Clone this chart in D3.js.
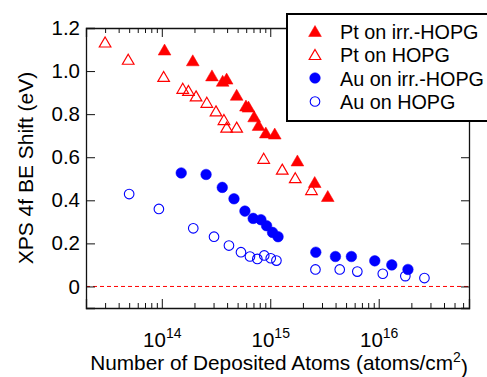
<!DOCTYPE html>
<html>
<head>
<meta charset="utf-8">
<script src="https://cdn.jsdelivr.net/npm/d3@7"></script>
<style>
  body { margin: 0; background: #fff; }
  svg { display: block; font-family: "Liberation Sans", Arial, sans-serif; }
  .axis path, .axis line { stroke: #111; }
</style>
</head>
<body>
<svg id="chart" width="487" height="377"></svg>
<script>
// Pt on irradiated HOPG (filled triangles)
const ptIrrX = [1.06e14, 1.93e14, 2.9e14, 3.64e14, 3.96e14, 4.9e14, 5.97e14, 6.3e14, 7.1e14, 7.8e14, 9.1e14, 1.10e15, 1.78e15, 2.57e15, 3.39e15];
const ptIrrY = [1.10, 1.05, 0.98, 0.955, 0.965, 0.89, 0.84, 0.835, 0.79, 0.75, 0.715, 0.71, 0.585, 0.485, 0.42];
// Pt on HOPG (open triangles)
const ptX = [3.0e13, 4.9e13, 1.04e14, 1.56e14, 1.76e14, 2.07e14, 2.6e14, 3.16e14, 3.74e14, 3.96e14, 4.9e14, 8.7e14, 1.29e15, 1.70e15, 2.4e15];
const ptY = [1.135, 1.055, 0.975, 0.92, 0.91, 0.885, 0.855, 0.815, 0.775, 0.74, 0.74, 0.595, 0.545, 0.505, 0.45];
// Au on irradiated HOPG (filled circles)
const auIrrX = [1.51e14, 2.56e14, 3.61e14, 4.63e14, 5.84e14, 6.96e14, 8.2e14, 9.25e14, 1.05e15, 1.18e15, 2.63e15, 3.99e15, 5.6e15, 9.2e15, 1.32e16, 1.86e16];
const auIrrY = [0.527, 0.52, 0.46, 0.407, 0.35, 0.316, 0.31, 0.282, 0.251, 0.231, 0.159, 0.139, 0.139, 0.119, 0.1, 0.079];
// Au on HOPG (open circles)
const auX = [5.0e13, 9.4e13, 1.95e14, 3.03e14, 4.16e14, 5.37e14, 6.5e14, 7.6e14, 8.8e14, 1.01e15, 1.14e15, 2.61e15, 4.37e15, 6.35e15, 1.09e16, 1.76e16, 2.64e16];
const auY = [0.429, 0.36, 0.27, 0.231, 0.19, 0.159, 0.139, 0.128, 0.144, 0.131, 0.12, 0.079, 0.079, 0.069, 0.059, 0.048, 0.039];

const seriesNames = ['Pt on irr.-HOPG', 'Pt on HOPG', 'Au on irr.-HOPG', 'Au on HOPG'];
const xMajorTicks = [1e14, 1e15, 1e16];
const yTicks = [0, 0.2, 0.4, 0.6, 0.8, 1.0, 1.2];

const series = [
  {name: seriesNames[0], xs: ptIrrX, ys: ptIrrY, shape: 'tri', filled: true, color: '#ff0000'},
  {name: seriesNames[1], xs: ptX, ys: ptY, shape: 'tri', filled: false, color: '#ff0000'},
  {name: seriesNames[2], xs: auIrrX, ys: auIrrY, shape: 'circle', filled: true, color: '#0000ff'},
  {name: seriesNames[3], xs: auX, ys: auY, shape: 'circle', filled: false, color: '#0000ff'}
];

const margin = {top: 28, right: 18, bottom: 69, left: 86};
const W = 487, H = 377;
const width = W - margin.left - margin.right;
const height = H - margin.top - margin.bottom;

const svg = d3.select('#chart');
const chart = svg.append('g').attr('transform', `translate(${margin.left},${margin.top})`);

const x = d3.scaleLog().domain([2e13, 6.8e16]).range([0, width]);
const y = d3.scaleLinear().domain([-0.1, 1.2]).range([height, 0]);

// minor tick values 2..9 per decade inside the domain
const xMinor = [];
for (let e = 13; e <= 16; e++) {
  for (let m = 2; m <= 9; m++) {
    const v = m * Math.pow(10, e);
    if (v >= x.domain()[0] && v <= x.domain()[1]) xMinor.push(v);
  }
}

// zero reference line
chart.append('line')
    .attr('x1', 0).attr('x2', width)
    .attr('y1', y(0)).attr('y2', y(0))
    .attr('stroke', '#ff0000')
    .attr('stroke-width', 1)
    .attr('stroke-dasharray', '4,3');

// axes (ticks point inward)
const bottomAxis = chart.append('g').attr('class', 'axis')
    .attr('transform', `translate(0,${height})`)
    .call(d3.axisBottom(x).tickValues(xMajorTicks).tickSize(-9).tickPadding(24).tickFormat(''));
bottomAxis.selectAll('.tick text').each(function(d) {
  const t = d3.select(this);
  t.text('10').attr('font-size', 20.5).attr('fill', '#000');
  t.append('tspan').attr('dy', '-0.6em').attr('font-size', 14).text(Math.round(Math.log10(d)));
});
chart.append('g').attr('class', 'axis')
    .attr('transform', `translate(0,${height})`)
    .call(d3.axisBottom(x).tickValues(xMinor).tickSize(-5).tickFormat(''))
    .call(g => g.select('.domain').remove());

chart.append('g').attr('class', 'axis')
    .call(d3.axisTop(x).tickValues(xMajorTicks).tickSize(-9).tickFormat(''));
chart.append('g').attr('class', 'axis')
    .call(d3.axisTop(x).tickValues(xMinor).tickSize(-5).tickFormat(''))
    .call(g => g.select('.domain').remove());

chart.append('g').attr('class', 'axis')
    .call(d3.axisLeft(y).tickValues(yTicks).tickSize(-9).tickPadding(6)
      .tickFormat(d => d === 0 ? '0' : d3.format('.1f')(d)))
    .call(g => g.selectAll('.tick text').attr('font-size', 20.5).attr('fill', '#000'));

chart.append('g').attr('class', 'axis')
    .attr('transform', `translate(${width},0)`)
    .call(d3.axisRight(y).tickValues(yTicks).tickSize(-8).tickFormat(''));

chart.selectAll('.axis .domain').attr('stroke-width', 1.3);

// marker paths
const triPath = (s) => `M0,${-s * 0.5}L${s * 0.58},${s * 0.5}L${-s * 0.58},${s * 0.5}Z`;

function drawMarker(g, d, px, py) {
  if (d.shape === 'tri') {
    g.append('path')
        .attr('d', triPath(d.filled ? 11 : 10))
        .attr('transform', `translate(${px},${py})`)
        .attr('fill', d.filled ? d.color : 'none')
        .attr('stroke', d.color)
        .attr('stroke-width', d.filled ? 0.5 : 1.2);
  } else {
    g.append('circle')
        .attr('cx', px).attr('cy', py)
        .attr('r', d.filled ? 5.3 : 4.8)
        .attr('fill', d.filled ? d.color : 'none')
        .attr('stroke', d.color)
        .attr('stroke-width', d.filled ? 0.5 : 1.1);
  }
}

const marks = chart.append('g');
series.forEach(s => {
  const g = marks.append('g');
  s.xs.forEach((xv, i) => drawMarker(g, s, x(xv), y(s.ys[i])));
});

// legend box
const legend = svg.append('g').attr('transform', 'translate(287,14)');
legend.append('rect')
    .attr('x', 0).attr('y', 0)
    .attr('width', 215).attr('height', 107)
    .attr('fill', '#fff')
    .attr('stroke', '#000')
    .attr('stroke-width', 2);
series.forEach((s, i) => {
  const ry = 17 + i * 23.5;
  drawMarker(legend, s, 28, ry);
  legend.append('text')
      .attr('x', 53).attr('y', ry + 7.5)
      .attr('font-size', 19.8)
      .text(s.name);
});

// axis titles
svg.append('text')
    .attr('x', 279)
    .attr('y', 370)
    .attr('text-anchor', 'middle')
    .attr('font-size', 20.8)
    .text('Number of Deposited Atoms (atoms/cm')
  .call(t => {
    t.append('tspan').attr('dy', '-0.6em').attr('font-size', 14).text('2');
    t.append('tspan').attr('dy', '0.6em').text(')');
  });

svg.append('text')
    .attr('transform', `translate(33,${margin.top + y(0.55)}) rotate(-90)`)
    .attr('text-anchor', 'middle')
    .attr('font-size', 21)
    .text('XPS 4f BE Shift (eV)');
</script>
</body>
</html>
